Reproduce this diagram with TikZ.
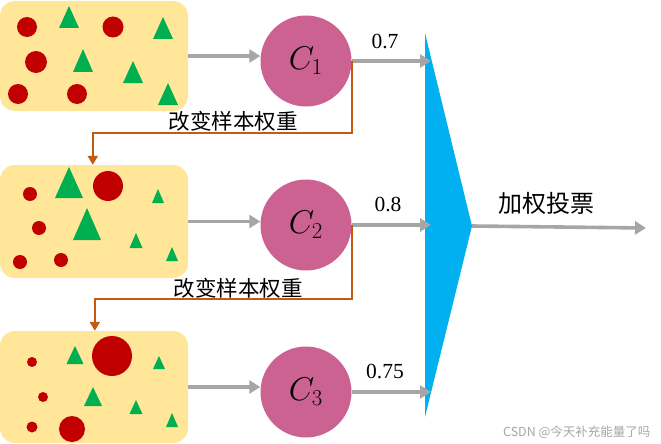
\documentclass[tikz,border=0pt]{standalone}
\usepackage{graphicx}
\usepackage{fontspec}
\setmainfont{Liberation Serif}
\newfontfamily\cjk{Noto Sans CJK SC}
\usetikzlibrary{arrows.meta}

\definecolor{boxfill}{RGB}{255,230,153}
\definecolor{dotred}{RGB}{192,0,0}
\definecolor{trigreen}{RGB}{0,176,80}
\definecolor{clfpink}{RGB}{204,98,145}
\definecolor{arrowgray}{RGB}{166,166,166}
\definecolor{fborange}{RGB}{197,90,17}
\definecolor{voteblue}{RGB}{0,176,240}

\tikzset{
  samplebox/.style={fill=boxfill, rounded corners=15pt, minimum width=188pt, inner sep=0pt},
  classifier/.style={circle, fill=clfpink, minimum size=91pt, inner sep=0pt,
    font=\fontsize{24}{24}\selectfont},
  flow/.style={draw=arrowgray, line width=3.6pt, -{Triangle[length=11pt,width=13pt]}},
  feedback/.style={draw=fborange, line width=2.2pt, -{Triangle[length=9pt,width=10pt]}},
  weightlbl/.style={font=\fontsize{21.5}{21.5}\selectfont},
  cjklbl/.style={font=\cjk\fontsize{21.5}{21.5}\selectfont},
  dot/.style={fill=dotred},
  tri/.style={fill=trigreen}
}
% upright triangle from apex (x,y) with half width w and height h
\newcommand\tri[4]{\fill[tri] (#1,#2) -- (#1-#3,#2+#4) -- (#1+#3,#2+#4) -- cycle;}
% enlarged classifier name
\newcommand\clfname[1]{\scalebox{1.32}{$C_{#1}$}}

\begin{document}
\begin{tikzpicture}[x=1pt,y=-1pt]
\useasboundingbox (0,0) rectangle (661,444);

% sample sets
\node[samplebox, minimum height=110pt] (b1) at (94,56) {};
\node[samplebox, minimum height=113pt] (b2) at (94,221.5) {};
\node[samplebox, minimum height=112pt] (b3) at (94,387) {};

% set 1: equal weights
\fill[dot] (27,27) circle (10);
\fill[dot] (113,27) circle (10.5);
\fill[dot] (36,62) circle (11);
\fill[dot] (18,94) circle (10);
\fill[dot] (77,94) circle (10);
\tri{69}{6}{10}{22}
\tri{163}{17}{10}{22}
\tri{83}{49}{10}{23}
\tri{133}{61}{10}{22}
\tri{168}{83}{10}{22}

% set 2: reweighted
\fill[dot] (30,194) circle (7);
\fill[dot] (108,186) circle (15);
\fill[dot] (39,228) circle (7);
\fill[dot] (20,262) circle (7);
\fill[dot] (61,260) circle (7);
\tri{69}{167}{14}{31}
\tri{87}{208}{14}{32}
\tri{158}{189}{6}{14}
\tri{136}{233}{6.5}{15}
\tri{172}{247}{6}{14}

% set 3: reweighted again
\fill[dot] (32,362) circle (5);
\fill[dot] (112,356) circle (20);
\fill[dot] (43,397) circle (5);
\fill[dot] (32,427) circle (5.5);
\fill[dot] (72,429) circle (13);
\tri{75}{346}{8.5}{18}
\tri{93}{387}{9}{19}
\tri{159}{356}{6}{13}
\tri{136}{400}{6.5}{14}
\tri{172}{413}{6}{14}

% base classifiers
\node[classifier] (c1) at (306,61) {\clfname{1}};
\node[classifier] (c2) at (306,225) {\clfname{2}};
\node[classifier] (c3) at (306,392) {\clfname{3}};

% training flow
\draw[flow] (b1.east) -- (b1.east -| c1.west);
\draw[flow] (b2.east) -- (b2.east -| c2.west);
\draw[flow] (b3.east) -- (b3.east -| c3.west);

% weighted vote
\coordinate (vtop) at (425,33);
\coordinate (vbot) at (425,417);
\coordinate (vtip) at (472,226);
\coordinate (vout) at (646,228);
\fill[voteblue] (vtop) -- (vtip) -- (vbot) -- cycle;

\draw[flow] (c1.east) -- (c1.east -| 431,0);
\draw[flow] (c2.east) -- (c2.east -| 431,0);
\draw[flow] (c3.east) -- (c3.east -| 431,0);
\node[weightlbl] (w1) at (385,42) {0.7};
\node[weightlbl] (w2) at (388,205) {0.8};
\node[weightlbl] (w3) at (385,371) {0.75};

\draw[flow] (vtip) -- (vout);
\node[font=\cjk\fontsize{24}{24}\selectfont] (vote) at (546,203) {加权投票};

% sample reweighting
\draw[feedback] (c1.east) -- ++(0,72) -| ([xshift=93pt]b2.north west);
\node[cjklbl] (rw1) at (233,121) {改变样本权重};
\draw[feedback] (c2.east) -- ++(0,74) -| ([xshift=95pt]b3.north west);
\node[cjklbl] (rw2) at (238,288) {改变样本权重};

% credit line
\node[text=black!35, font=\cjk\fontsize{12.5}{12.5}\selectfont, anchor=east] (credit) at (654,432) {CSDN @今天补充能量了吗};
\end{tikzpicture}
\end{document}
